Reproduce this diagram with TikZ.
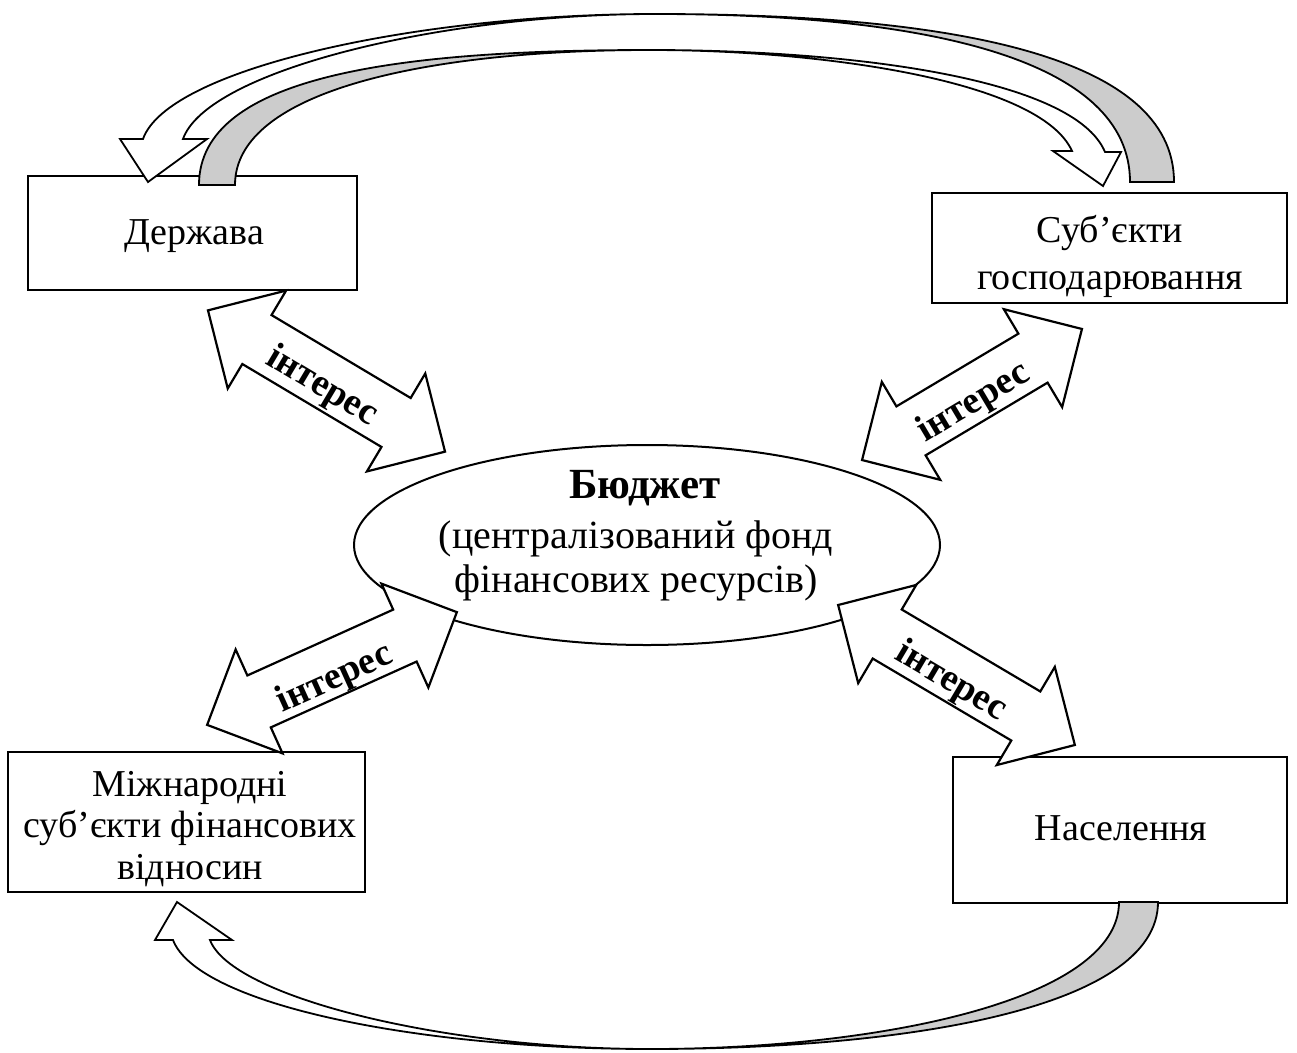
\documentclass[tikz,border=0pt]{standalone}
\usepackage{fontspec}
\setmainfont{Liberation Serif}
\usetikzlibrary{shapes.geometric}
\newcommand\blockdbl[4]{%
\begin{scope}[shift={(#1,#2)},rotate=#3]
\draw[dblstyle] ({-#4/2},0) -- ({-#4/2+57},57) -- ({-#4/2+57},28.5) -- ({#4/2-57},28.5) -- ({#4/2-57},57) -- ({#4/2},0) -- ({#4/2-57},-57) -- ({#4/2-57},-28.5) -- ({-#4/2+57},-28.5) -- ({-#4/2+57},-57) -- cycle;
\end{scope}}
\tikzset{
 txt/.style={font=\fontsize{38}{42}\selectfont, align=center, inner sep=0pt},
 boxnode/.style={draw, line width=2pt, fill=white, inner sep=0pt},
 budgetshape/.style={draw, ellipse, line width=2pt, fill=white, inner sep=0pt, minimum width=586pt, minimum height=200pt},
 dblstyle/.style={draw, fill=white, line width=2.2pt, line join=miter},
 curvegray/.style={draw, fill=black!20, line width=1.8pt, line join=miter},
 curvewhite/.style={draw, fill=white, line width=1.8pt, line join=miter},
 interes/.style={font=\bfseries\fontsize{38}{40}\selectfont, inner sep=0pt}
}
\begin{document}
\begin{tikzpicture}[x=1pt,y=-1pt]
\useasboundingbox (0,0) rectangle (1297,1052);
\fill[white] (0,0) rectangle (1297,1052);
% boxes
\node[boxnode, minimum width=329pt, minimum height=114pt] (derzhava) at (192.5,233) {};
\node[boxnode, minimum width=355pt, minimum height=110pt] (subj) at (1109.5,248) {};
\node[boxnode, minimum width=357pt, minimum height=140pt] (mizh) at (186.5,822) {};
\node[boxnode, minimum width=334pt, minimum height=146pt] (nasel) at (1120,830) {};
\node[budgetshape] (budget) at (647,545) {};
\node[txt] (derzhavatext) at (194,236) {Держава};
\node[txt, font=\fontsize{38}{47}\selectfont] (subjtext) at (1110,256) {Суб’єкти\\господарювання};
\node[txt, font=\fontsize{38}{41.5}\selectfont] (mizhtext) at (190,829) {Міжнародні\\суб’єкти фінансових\\відносин};
\node[txt] (naseltext) at (1121,828) {Населення};
\node[txt, font=\fontsize{40}{44}\selectfont] (budgettext) at (636,536) {{\fontsize{43}{46}\selectfont\bfseries\hspace*{18pt}Бюджет}\\[6pt](централізований фонд\\фінансових ресурсів)};
% double block arrows
\blockdbl{326.5}{381}{-30.8}{276}
\blockdbl{972}{394.5}{30.8}{256}
\blockdbl{332}{668.5}{24.3}{274}
\blockdbl{956.5}{675}{-30.6}{275}
\node[interes, rotate=-30.8] (int1) at (322,387) {інтерес};
\node[interes, rotate=30.8] (int2) at (974,403) {інтерес};
\node[interes, rotate=24.3] (int3) at (335,679) {інтерес};
\node[interes, rotate=-30.6] (int4) at (951,682) {інтерес};
% curved arrow A: Держава -> Суб'єкти (inner top)
\draw[curvegray] (199,185) .. controls (199,75) and (400,50) .. (650,50) .. controls (430,50) and (235,90) .. (235,185) -- cycle;
\draw[curvewhite] (650,50) .. controls (820,50) and (1040,80) .. (1072,151) -- (1053,151) -- (1103,186) -- (1121,152) -- (1105,152) .. controls (1074,78) and (850,50) .. (650,50) -- cycle;
% curved arrow B: Суб'єкти -> Держава (outer top)
\draw[curvegray] (1174,182) .. controls (1174,55) and (950,14) .. (655,14) .. controls (930,14) and (1130,60) .. (1130,182) -- cycle;
\draw[curvewhite] (655,14) .. controls (440,14) and (207,71) .. (183,139) -- (207,139) -- (148,182) -- (120,139) -- (143,139) .. controls (168,68) and (420,14) .. (655,14) -- cycle;
% curved arrow C: Населення -> Міжнародні (bottom)
\draw[curvegray] (1158,902) .. controls (1158,1010) and (900,1049) .. (650,1049) .. controls (880,1049) and (1119,1000) .. (1119,902) -- cycle;
\draw[curvewhite] (650,1049) .. controls (440,1049) and (231,996) .. (210,940) -- (232,940) -- (177,902) -- (155,940) -- (173,940) .. controls (198,1005) and (420,1049) .. (650,1049) -- cycle;
\end{tikzpicture}
\end{document}
